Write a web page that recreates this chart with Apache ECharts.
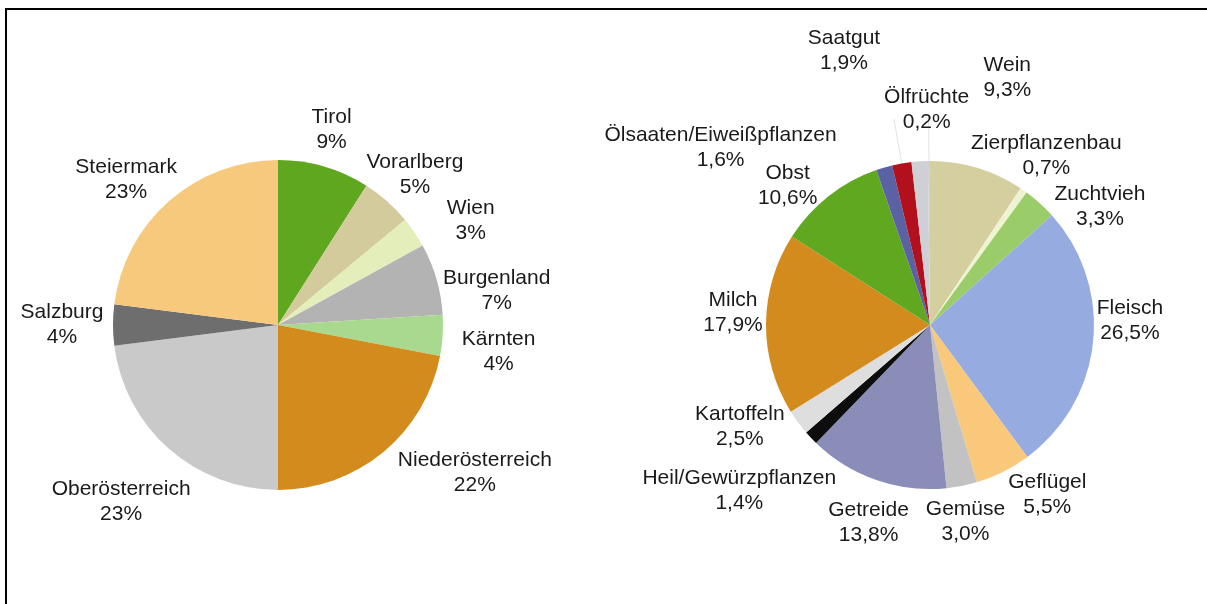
<!DOCTYPE html>
<html>
<head>
<meta charset="UTF-8">
<title></title>
<script src="https://cdn.jsdelivr.net/npm/echarts@6/dist/echarts.min.js"></script>
<style>
  html, body { margin: 0; padding: 0; background: #fff; }
  #frame { position: absolute; left: 5px; top: 8px; width: 1202px; height: 596px;
           border-left: 2px solid #000; border-top: 2px solid #000; box-sizing: border-box; }
  #chart { position: absolute; left: 0; top: 0; width: 1207px; height: 604px; }
</style>
</head>
<body>
<div id="frame"></div>
<div id="chart"></div>
<script>
// Bundesländer (linkes Kreisdiagramm), im Uhrzeigersinn ab 12 Uhr
var regionNames = ['Tirol', 'Vorarlberg', 'Wien', 'Burgenland', 'Kärnten',
                   'Niederösterreich', 'Oberösterreich', 'Salzburg', 'Steiermark'];
var regionValues = [9, 5, 3, 7, 4, 22, 23, 4, 23];

// Produktgruppen (rechtes Kreisdiagramm), im Uhrzeigersinn ab 12 Uhr
var productNames = ['Wein', 'Zierpflanzenbau', 'Zuchtvieh', 'Fleisch', 'Geflügel', 'Gemüse',
                    'Getreide', 'Heil/Gewürzpflanzen', 'Kartoffeln', 'Milch', 'Obst',
                    'Ölsaaten/Eiweißpflanzen', 'Saatgut', '', 'Ölfrüchte'];
var productValues = [9.3, 0.7, 3.3, 26.5, 5.5, 3.0, 13.8, 1.4, 2.5, 17.9, 10.6, 1.6, 1.9, 1.6, 0.2];

var regionColors = ['#5fa71f', '#d3cb9b', '#e4eebb', '#b3b3b3', '#a9d98f',
                    '#d28b1c', '#c9c9c9', '#6e6e6e', '#f6c97d'];
var productColors = ['#d5cf9f', '#eef3d2', '#9acd6a', '#96abdf', '#f9c87b', '#c2c2c2',
                     '#8a8db8', '#0d0d0d', '#dedede', '#d48b1e', '#60a820',
                     '#5a62a4', '#b3101d', '#cfd0d6', '#cfd0d6'];

// Feinjustierung der Beschriftungen (dx, dy) gegenüber der Standardlage
var regionNudge = [[-5, 6], [-2, 7], [19, 14], [17, 24], [11, 14], [63, -14], [-18, 19], [-6, 0], [-13, 12]];
var productNudge = [[17, -47], [-3, 2], [30, 37], [-8, -25], [24, -17], [-5, -8], [7, 0],
                    [-39, 22], [-22, -22], [12, -11], [-13, 25], [-151, 23], [-50, -68], [0, 0], [-2, -6]];

var labelStyle = {
  show: true,
  position: 'outside',
  color: '#1a1a1a',
  fontFamily: 'Liberation Sans, Arial, sans-serif',
  fontSize: 21,
  lineHeight: 25,
  align: 'center',
  distanceToLabelLine: 0
};

function makeData(names, values, colors, showLine) {
  return names.map(function (n, i) {
    var item = { name: n, value: values[i], itemStyle: { color: colors[i] } };
    if (n === '') item.label = { show: false };
    if (showLine.indexOf(n) >= 0) {
      item.labelLine = { show: true, lineStyle: { color: '#e2e2e2', width: 1 } };
    }
    return item;
  });
}

var option = {
  animation: false,
  series: [
    {
      type: 'pie',
      center: [278, 325],
      radius: 165,
      startAngle: 90,
      clockwise: true,
      avoidLabelOverlap: false,
      silent: true,
      label: Object.assign({}, labelStyle, {
        formatter: function (p) { return p.name + '\n' + p.value + '%'; }
      }),
      labelLine: { show: false, length: 45, length2: 0 },
      labelLayout: function (p) {
        var d = regionNudge[p.dataIndex];
        return { align: 'center', verticalAlign: 'middle', dx: d[0], dy: d[1] };
      },
      data: makeData(regionNames, regionValues, regionColors, [])
    },
    {
      type: 'pie',
      center: [930, 325],
      radius: 164,
      startAngle: 90,
      clockwise: true,
      avoidLabelOverlap: false,
      silent: true,
      label: Object.assign({}, labelStyle, {
        formatter: function (p) {
          return p.name + '\n' + p.value.toFixed(1).replace('.', ',') + '%';
        }
      }),
      labelLine: { show: false, length: 45, length2: 0 },
      labelLayout: function (p) {
        var d = productNudge[p.dataIndex];
        return { align: 'center', verticalAlign: 'middle', dx: d[0], dy: d[1] };
      },
      data: makeData(productNames, productValues, productColors, ['Saatgut', 'Ölfrüchte'])
    }
  ]
};

var chart = echarts.init(document.getElementById('chart'));
chart.setOption(option);
</script>
</body>
</html>
